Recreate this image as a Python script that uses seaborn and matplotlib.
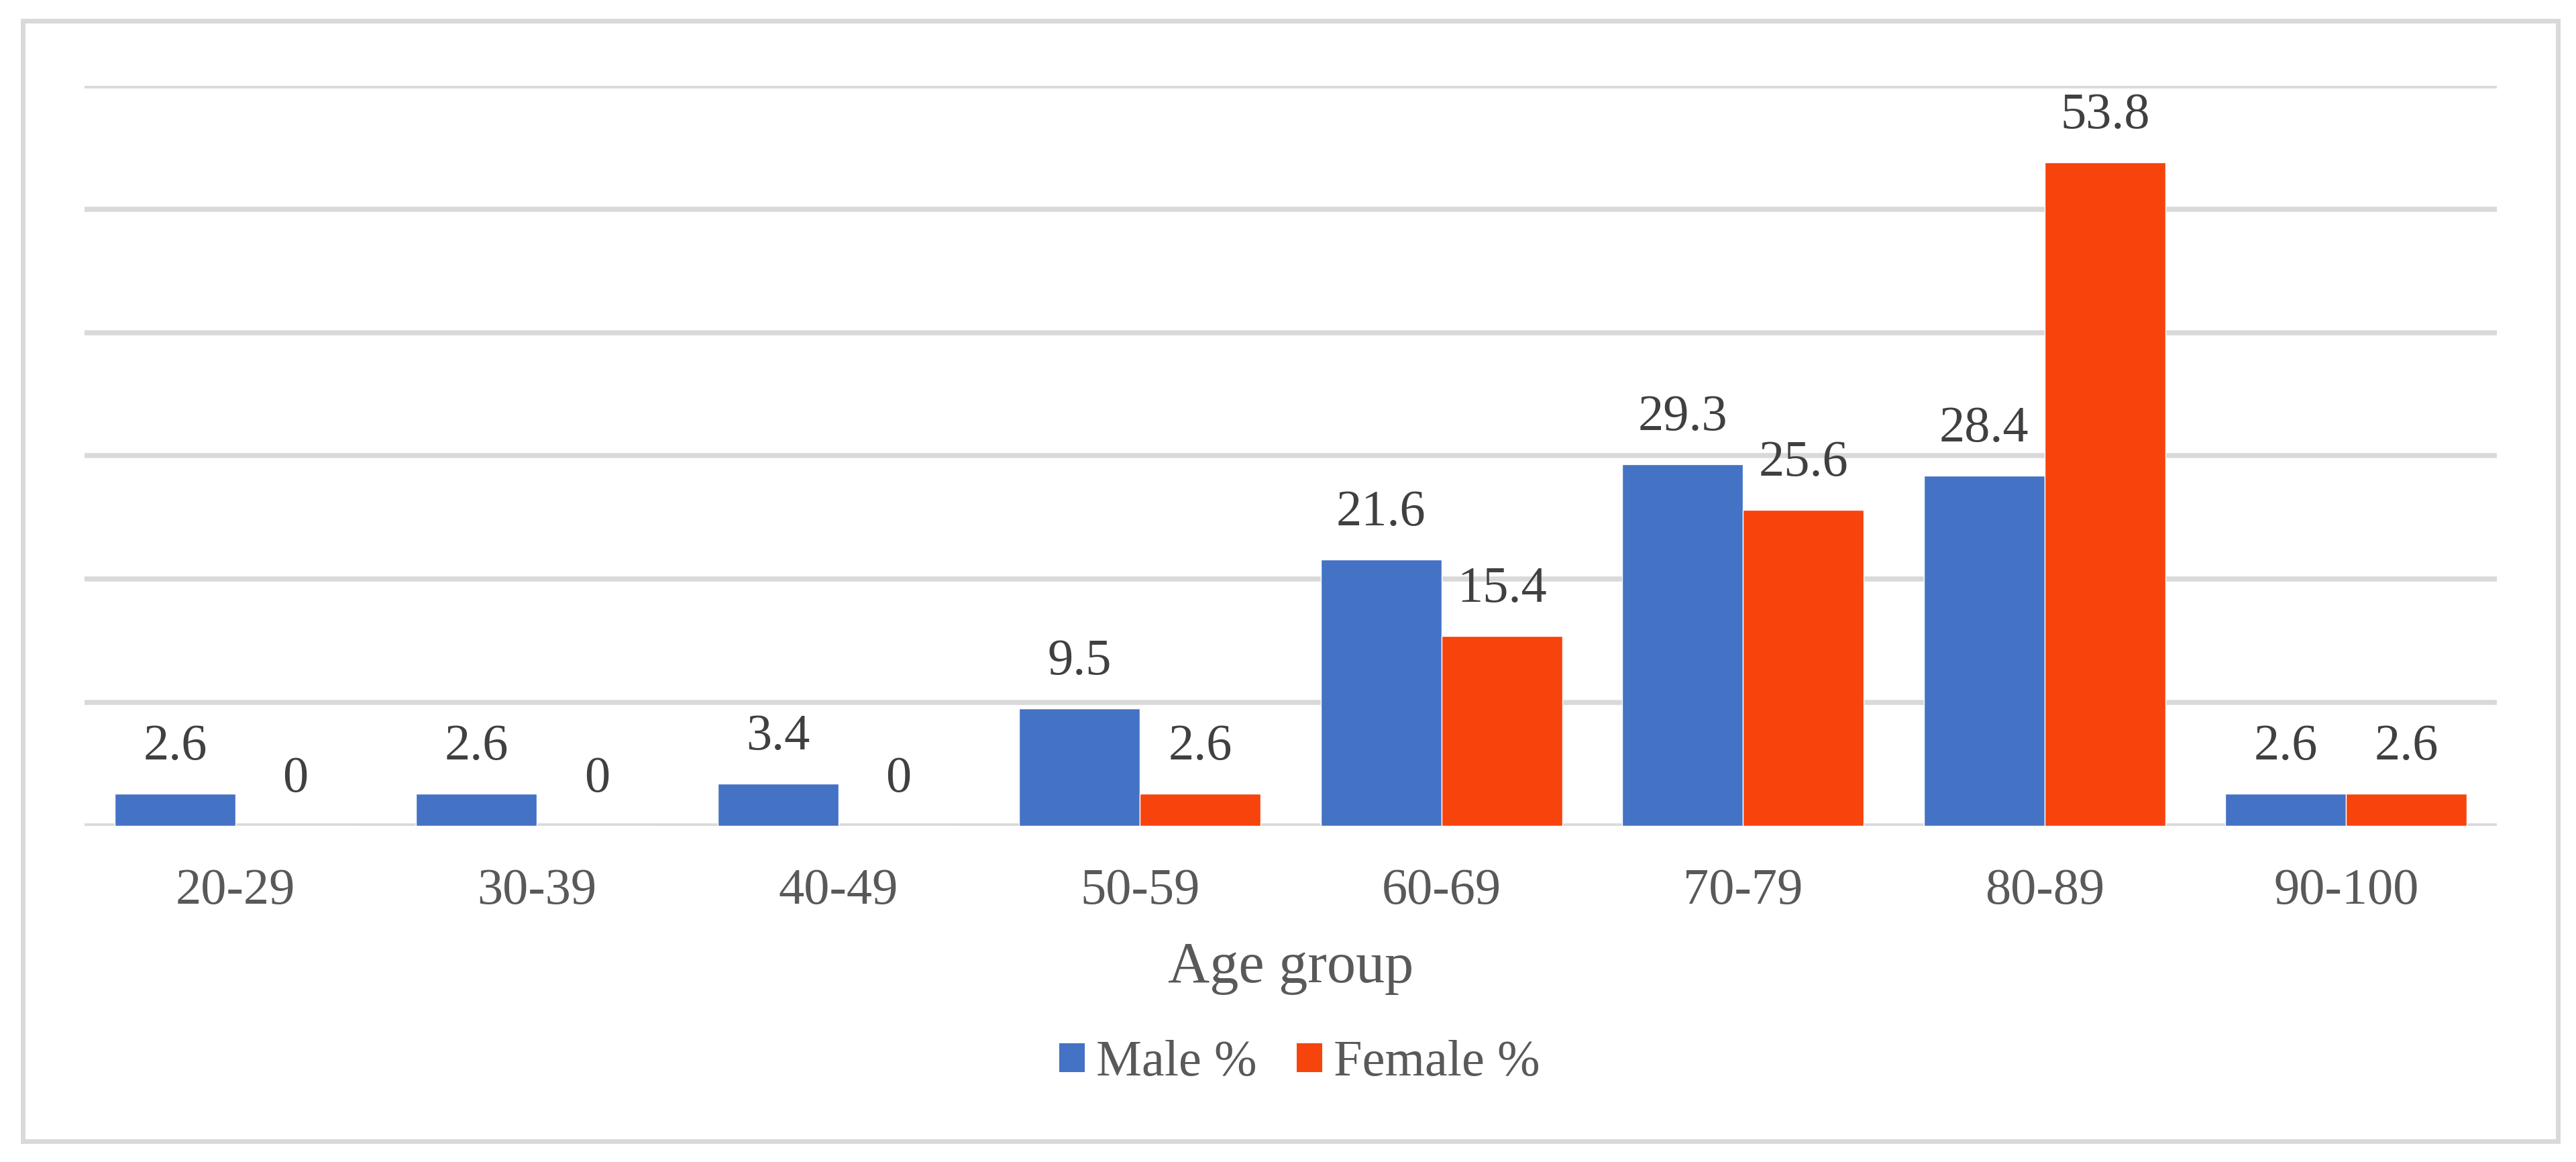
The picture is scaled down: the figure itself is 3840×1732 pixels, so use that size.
import matplotlib
matplotlib.use("Agg")
import matplotlib.pyplot as plt
import seaborn as sns
import pandas as pd
from matplotlib.patches import Rectangle

# ---- data ----
age_groups = ["20-29", "30-39", "40-49", "50-59", "60-69", "70-79", "80-89", "90-100"]
male_pct = [2.6, 2.6, 3.4, 9.5, 21.6, 29.3, 28.4, 2.6]
female_pct = [0, 0, 0, 2.6, 15.4, 25.6, 53.8, 2.6]
series_names = ["Male %", "Female %"]
series_colors = ["#4472C4", "#F7430C"]

df = pd.DataFrame({
    "Age group": age_groups * 2,
    "value": male_pct + female_pct,
    "series": [series_names[0]] * len(age_groups) + [series_names[1]] * len(age_groups),
})

sns.set_style("white")
plt.rcParams["font.family"] = ["Liberation Serif", "DejaVu Serif"]

W, H, DPI = 3841, 1732, 100
fig = plt.figure(figsize=(W / DPI, H / DPI), dpi=DPI)
fig.patch.set_facecolor("white")

left, right, top, bottom = 126, 3722, 128, 1230.5
ax = fig.add_axes([left / W, (H - bottom) / H, (right - left) / W, (bottom - top) / H])

sns.barplot(data=df, x="Age group", y="value", hue="series", order=age_groups,
            hue_order=series_names, palette=series_colors, saturation=1,
            width=0.8, gap=0, ax=ax, legend=True, errorbar=None)

ax.set_ylim(0, 60)
ax.set_xlim(-0.5, len(age_groups) - 0.5)
ax.set_yticks(range(0, 61, 10))
ax.set_yticklabels([])
ax.tick_params(axis="y", length=0)
ax.tick_params(axis="x", length=0, pad=46, labelsize=55, labelcolor="#595959")
ax.yaxis.grid(True, color="#D9D9D9", linewidth=5.4)
ax.set_axisbelow(True)
for s in ax.spines.values():
    s.set_visible(False)
ax.set_ylabel("")

ax.set_xlabel("Age group", fontsize=62, color="#595959")
ax.xaxis.set_label_coords(0.5, -0.157)

for cont in ax.containers:
    ax.bar_label(cont, fmt="{:g}", padding=25, fontsize=55, color="#404040")

leg = ax.get_legend()
if leg is not None:
    leg.remove()
handles = [Rectangle((0, 0), 1, 1, facecolor=c, edgecolor="none") for c in series_colors]
fig.legend(handles, series_names, loc="center", bbox_to_anchor=(1937.5 / W, (H - 1585) / H),
           ncol=2, frameon=False, fontsize=55, labelcolor="#595959",
           handlelength=0.5, handleheight=0.5, handletextpad=0.22, columnspacing=0.78,
           borderpad=0, borderaxespad=0)

# outer frame
fig.patches.append(Rectangle((34.5 / W, 31.5 / H), (3813.5 - 34.5) / W, (1701.5 - 31.5) / H,
                             transform=fig.transFigure, fill=False, edgecolor="#D9D9D9",
                             linewidth=5.0, zorder=10))

fig.savefig("out.png", dpi=DPI, facecolor="white")
